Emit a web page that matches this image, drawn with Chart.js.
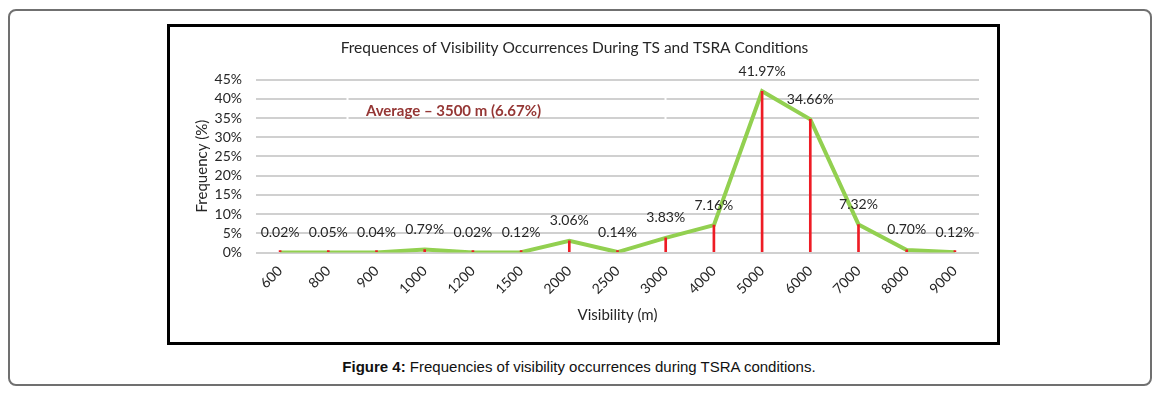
<!DOCTYPE html>
<html>
<head>
<meta charset="utf-8">
<script src="https://cdn.jsdelivr.net/npm/chart.js@4"></script>
<style>
    body { margin: 0; background: #fff; width: 1158px; height: 394px; position: relative; overflow: hidden; }
    .frame { position: absolute; left: 8px; top: 9px; width: 1144px; height: 377px; box-sizing: border-box;
             border: 2px solid #707070; border-radius: 8px; }
    .chartBox { position: absolute; left: 167px; top: 24px; width: 833px; height: 321px; box-sizing: border-box;
                border: 3px solid #000; }
    .chartBox canvas { position: absolute; left: 0; top: 0; }
    .caption { position: absolute; left: 0; width: 1158px; top: 358px; text-align: center;
               font-family: "Liberation Sans", Arial, sans-serif; font-size: 15px; color: #111; }
</style>
</head>
<body>
<div class="frame"></div>
<div class="chartBox"><canvas id="visChart" width="827" height="315"></canvas></div>
<div class="caption"><b>Figure 4:</b> Frequencies of visibility occurrences during TSRA conditions.</div>

<script>
// Visibility categories (m) and occurrence frequency (%)
const visibility = ['600', '800', '900', '1000', '1200', '1500', '2000', '2500', '3000', '4000', '5000', '6000', '7000', '8000', '9000'];
const frequency = [0.02, 0.05, 0.04, 0.79, 0.02, 0.12, 3.06, 0.14, 3.83, 7.16, 41.97, 34.66, 7.32, 0.70, 0.12];
const yMax = 45;
const yStep = 5;
const averageNote = 'Average \u2013 3500 m (6.67%)';

const FONT = 'Lato';
const TEXT = '#262626';

// Value labels above each line point + the average note
const labelPlugin = {
    id: 'valueLabels',
    afterDatasetsDraw(chart) {
        const ctx = chart.ctx;
        const meta = chart.getDatasetMeta(1);
        ctx.save();
        ctx.font = '14px ' + FONT;
        ctx.fillStyle = TEXT;
        ctx.textAlign = 'center';
        ctx.textBaseline = 'middle';
        meta.data.forEach((pt, i) => {
            ctx.fillText(frequency[i].toFixed(2) + '%', pt.x, pt.y - 20);
        });

        // text box outline (white) breaking the gridlines
        ctx.strokeStyle = '#fff';
        ctx.lineWidth = 2;
        ctx.beginPath();
        ctx.moveTo(177.5, 65); ctx.lineTo(177.5, 98);
        ctx.moveTo(495.5, 65); ctx.lineTo(495.5, 98);
        ctx.stroke();

        ctx.font = 'bold 15px ' + FONT;
        ctx.fillStyle = '#953735';
        ctx.fillText(averageNote, 283.5, 84);
        ctx.restore();
    }
};

const ctx = document.getElementById('visChart').getContext('2d');
const visChart = new Chart(ctx, {
    data: {
        labels: visibility,
        datasets: [{
            type: 'bar',
            label: 'Frequency',
            data: frequency,
            backgroundColor: '#ee1c25',
            barThickness: 2,
            minBarLength: 2,
            order: 0
        }, {
            type: 'line',
            label: 'Frequency line',
            data: frequency,
            borderColor: '#92d050',
            borderWidth: 4,
            pointRadius: 0,
            tension: 0,
            fill: false,
            order: 1
        }]
    },
    options: {
        responsive: false,
        devicePixelRatio: 1,
        animation: false,
        layout: {
            padding: { left: 0, right: 18, top: 0, bottom: 0 }
        },
        plugins: {
            legend: { display: false },
            tooltip: { enabled: false },
            title: {
                display: true,
                text: 'Frequences of Visibility Occurrences During TS and TSRA Conditions',
                color: TEXT,
                font: { family: FONT, size: 15.5, weight: 'normal' },
                padding: { top: 12, bottom: 22 }
            }
        },
        scales: {
            x: {
                offset: true,
                grid: { display: false, drawTicks: false },
                border: { display: false },
                ticks: {
                    color: TEXT,
                    font: { family: FONT, size: 14 },
                    maxRotation: 45,
                    minRotation: 45,
                    autoSkip: false,
                    padding: 10
                },
                title: {
                    display: true,
                    text: 'Visibility (m)',
                    color: TEXT,
                    font: { family: FONT, size: 15 },
                    padding: { top: 0, bottom: 18 }
                },
                afterFit(scale) { scale.height = 89.4; }
            },
            y: {
                min: 0,
                max: yMax,
                grid: { color: '#d0d0d0', lineWidth: 2, drawTicks: false },
                border: { display: false },
                ticks: {
                    stepSize: yStep,
                    autoSkip: false,
                    color: TEXT,
                    font: { family: FONT, size: 14 },
                    padding: 14,
                    callback: function(value) {
                        return value + '%';
                    }
                },
                title: {
                    display: true,
                    text: 'Frequency (%)',
                    color: TEXT,
                    font: { family: FONT, size: 15 },
                    padding: { top: 23, bottom: 0 }
                },
                afterFit(scale) { scale.width = 86; }
            }
        }
    },
    plugins: [labelPlugin]
});
</script>
</body>
</html>
